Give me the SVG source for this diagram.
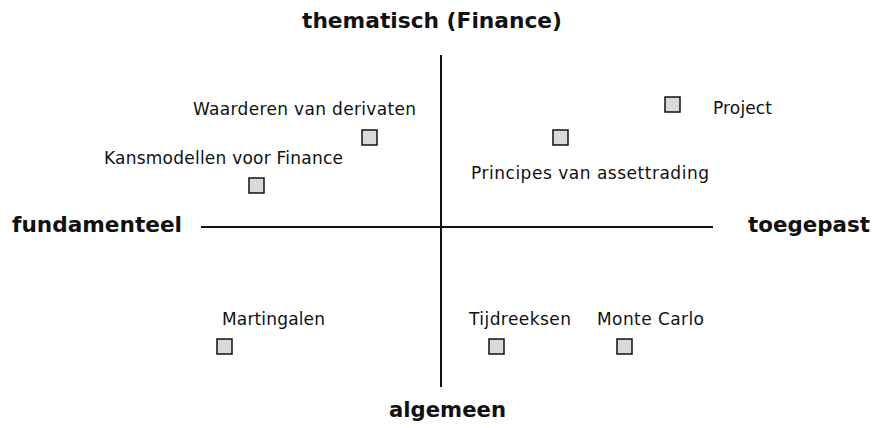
<svg xmlns="http://www.w3.org/2000/svg" width="887" height="428" viewBox="0 0 887 428">
<style>
.lbl{font-family:"DejaVu Sans",Verdana,sans-serif;font-size:17px;fill:#111}
.ax{font-family:"DejaVu Sans",Verdana,sans-serif;font-size:21px;font-weight:bold;fill:#111}
.box{fill:#d9d9d9;stroke:#111;stroke-width:1.5}
.axis{stroke:#111;stroke-width:2}
</style>
<rect width="887" height="428" fill="#fff"/>
<g id="axes">
<line class="axis" x1="441" y1="55" x2="441" y2="387"/>
<line class="axis" x1="201" y1="227" x2="713" y2="227"/>
</g>
<g id="axis-labels">
<text class="ax" x="302" y="28" textLength="260" lengthAdjust="spacingAndGlyphs">thematisch (Finance)</text>
<text class="ax" x="12" y="232" textLength="170" lengthAdjust="spacingAndGlyphs">fundamenteel</text>
<text class="ax" x="748" y="232" textLength="122" lengthAdjust="spacingAndGlyphs">toegepast</text>
<text class="ax" x="389" y="417" textLength="117" lengthAdjust="spacingAndGlyphs">algemeen</text>
</g>
<g id="waarderen"><rect class="box" x="362" y="130" width="15" height="15"/><text class="lbl" x="193" y="115" textLength="223" lengthAdjust="spacing">Waarderen van derivaten</text></g>
<g id="kansmodellen"><rect class="box" x="249" y="178" width="15" height="15"/><text class="lbl" x="104" y="164" textLength="239" lengthAdjust="spacing">Kansmodellen voor Finance</text></g>
<g id="principes"><rect class="box" x="553" y="130" width="15" height="15"/><text class="lbl" x="471" y="179" textLength="238" lengthAdjust="spacing">Principes van assettrading</text></g>
<g id="project"><rect class="box" x="665" y="97" width="15" height="15"/><text class="lbl" x="713" y="114" textLength="59" lengthAdjust="spacing">Project</text></g>
<g id="martingalen"><rect class="box" x="217" y="339" width="15" height="15"/><text class="lbl" x="222" y="325" textLength="103" lengthAdjust="spacing">Martingalen</text></g>
<g id="tijdreeksen"><rect class="box" x="489" y="339" width="15" height="15"/><text class="lbl" x="469" y="325" textLength="102" lengthAdjust="spacing">Tijdreeksen</text></g>
<g id="montecarlo"><rect class="box" x="617" y="339" width="15" height="15"/><text class="lbl" x="597" y="325" textLength="107" lengthAdjust="spacing">Monte Carlo</text></g>
</svg>
